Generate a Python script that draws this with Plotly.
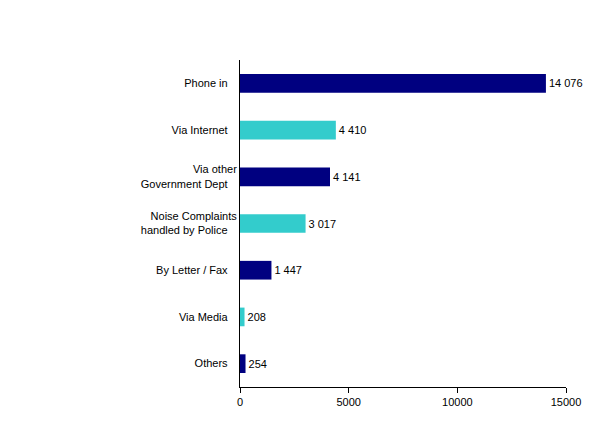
import plotly.graph_objects as go

categories = ["Phone in", "Via Internet", "Via other<br>Government Dept",
              "Noise Complaints<br>handled by Police", "By Letter / Fax",
              "Via Media", "Others"]
values = [14076, 4410, 4141, 3017, 1447, 208, 254]
colors = ["#000080", "#33CCCC", "#000080", "#33CCCC", "#000080", "#33CCCC", "#000080"]
x_ticks = [0, 5000, 10000, 15000]

labels = ["{:,}".format(v).replace(",", " ") for v in values]

fig = go.Figure(go.Bar(
    x=values, y=categories, orientation="h",
    marker=dict(color=colors, line=dict(width=0)),
    text=labels, textposition="outside", cliponaxis=False,
    textfont=dict(size=11, color="black"),
))

fig.update_layout(
    width=599, height=435,
    margin=dict(l=232, r=41, t=52, b=56),
    paper_bgcolor="white", plot_bgcolor="white",
    font=dict(family="Liberation Sans, Arial", size=11, color="black"),
    bargap=0.6, showlegend=False,
)
fig.update_xaxes(range=[0, 15000], tickvals=x_ticks, ticktext=[str(t) for t in x_ticks],
                 showgrid=False, zeroline=False, showline=True, linecolor="black",
                 ticks="outside", ticklen=5, tickcolor="black", automargin=False)
fig.update_yaxes(autorange="reversed", showgrid=False, showline=True,
                 linecolor="black", ticks="", ticksuffix="   ", automargin=False)

fig.write_html("out.html")
